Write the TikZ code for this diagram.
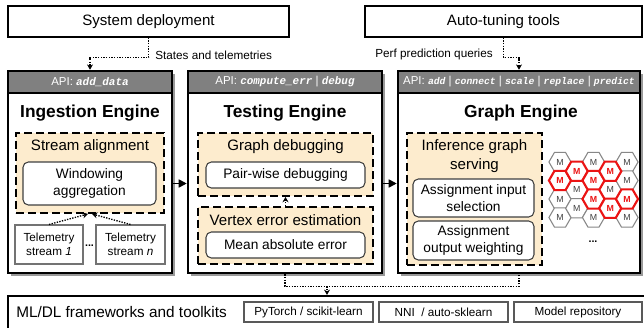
\documentclass[tikz,border=0pt]{standalone}
\usepackage{fontspec}
\setmainfont{Liberation Sans}
\newfontfamily\codefont{Liberation Mono}
\usetikzlibrary{fit,shapes.geometric,shadows,arrows.meta,calc}
\definecolor{beige}{RGB}{253,236,206}
\definecolor{apigray}{RGB}{128,128,128}
\definecolor{hexred}{RGB}{235,20,20}
\definecolor{hexgray}{RGB}{135,135,135}
\newcommand{\apicode}[1]{{\codefont\bfseries\itshape\fontsize{8.2}{9}\selectfont #1}}
\newcommand{\apicodeg}[1]{{\codefont\bfseries\itshape\fontsize{7.3}{9}\selectfont #1}}
\begin{document}
\begin{tikzpicture}[x=0.75pt,y=-0.75pt,
  topbox/.style={draw=black, line width=0.9pt, fill=white, inner sep=0pt},
  toptxt/.style={font=\fontsize{11.3}{13}\selectfont, inner sep=0pt},
  engine/.style={draw=black, line width=1.9pt, fill=white, inner sep=0pt,
     drop shadow={shadow xshift=2.2pt, shadow yshift=-2.2pt, fill=black!40, opacity=1}},
  apibar/.style={draw=black, line width=1.9pt, fill=apigray, inner sep=0pt},
  apitxt/.style={text=white, font=\fontsize{8.6}{9}\selectfont, inner sep=0pt},
  etitle/.style={font=\fontsize{13}{15}\selectfont\bfseries, inner sep=0pt},
  dbox/.style={draw=black, line width=1.4pt, dash pattern=on 6pt off 3pt, fill=beige, inner sep=0pt},
  dtitle/.style={font=\fontsize{11.3}{13.8}\selectfont, inner sep=0pt, align=center},
  rbox/.style={draw=black!75, line width=0.8pt, rounded corners=4pt, fill=white, inner sep=0pt},
  rtxt/.style={align=center, font=\fontsize{10.3}{12.5}\selectfont, inner sep=0pt},
  tbox/.style={draw=black!55, line width=0.8pt, fill=white, inner sep=0pt},
  ttxt/.style={align=center, font=\fontsize{8.8}{10.5}\selectfont, inner sep=0pt},
  bbox/.style={draw=black!65, line width=0.8pt, fill=white, inner sep=0pt},
  btxt/.style={font=\fontsize{8.8}{10.5}\selectfont, inner sep=0pt},
  hexg/.style={regular polygon, regular polygon sides=6, minimum size=16.6pt, inner sep=0pt, draw=hexgray, line width=0.8pt, fill=white, text=black!75, font=\fontsize{6.6}{7}\selectfont},
  hexr/.style={hexg, draw=hexred, line width=1.6pt, text=hexred, font=\fontsize{6.6}{7}\selectfont\bfseries},
  dotarr/.style={densely dotted, line width=1pt, -{Stealth[length=4pt,width=4.5pt]}},
  dotline/.style={densely dotted, line width=1pt},
  solidarr/.style={line width=1.2pt, -{Triangle[length=6pt,width=6pt]}},
  lbl/.style={font=\fontsize{8.8}{10}\selectfont, inner sep=0pt}]
\useasboundingbox (0,0) rectangle (644,328);

% top boxes
\node[topbox, fit={(8,6)(289,37)}] (sys) {};
\node[toptxt] (systxt) at (sys.center) {System deployment};
\node[topbox, fit={(365,6)(642,37)}] (auto) {};
\node[toptxt] (autotxt) at (auto.center) {Auto-tuning tools};

% engines
\node[engine, fit={(8,71)(172,273)}] (ing) {};
\node[engine, fit={(188,71)(382,273)}] (test) {};
\node[engine, fit={(398,71)(640,273)}] (graph) {};

\node[apibar, fit={(8,71)(172,93)}] (ingapi) {};
\node[apitxt] (ingapitxt) at (ingapi.center) {API: \apicode{add\_data}};
\node[apibar, fit={(188,71)(382,93)}] (testapi) {};
\node[apitxt] (testapitxt) at (testapi.center) {API: \apicode{compute\_err} | \apicode{debug}};
\node[apibar, fit={(398,71)(640,93)}] (graphapi) {};
\node[apitxt] (graphapitxt) at (graphapi.center) {API: \apicodeg{add} | \apicodeg{connect} | \apicodeg{scale} | \apicodeg{replace} | \apicodeg{predict}};

\node[etitle] (ingtitle) at (90,113) {Ingestion Engine};
\node[etitle] (testtitle) at (285,113) {Testing Engine};
\node[etitle] (graphtitle) at (521,113) {Graph Engine};

% ingestion internals
\node[dbox, fit={(16,133)(164,213)}] (sa) {};
\node[dtitle] (satitle) at (90,147) {Stream alignment};
\node[rbox, fit={(23,162)(156,205)}] (wa) {};
\node[rtxt] (watxt) at (wa.center) {Windowing\\aggregation};
\node[tbox, fit={(15,225)(83,264)}] (t1) {};
\node[ttxt] (t1txt) at (t1.center) {Telemetry\\stream \textit{1}};
\node[tbox, fit={(96,225)(165,264)}] (tn) {};
\node[ttxt] (tntxt) at (tn.center) {Telemetry\\stream \textit{n}};
\node[font=\fontsize{8}{9}\selectfont\bfseries, inner sep=0pt] (tdots) at (89.5,246) {...};
\draw[dotarr] (t1.north) -- ($(sa.south)+(-2,0)$);
\draw[dotarr] (tn.north) -- ($(sa.south)+(2,0)$);

% testing internals
\node[dbox, fit={(198,133)(373,196)}] (gd) {};
\node[dtitle] (gdtitle) at (285.5,147) {Graph debugging};
\node[rbox, fit={(206,162)(365,188)}] (pw) {};
\node[rtxt] (pwtxt) at (pw.center) {Pair-wise debugging};
\node[dbox, fit={(198,207)(373,264)}] (ve) {};
\node[dtitle] (vetitle) at (285.5,220) {Vertex error estimation};
\node[rbox, fit={(206,232)(365,258)}] (ma) {};
\node[rtxt] (matxt) at (ma.center) {Mean absolute error};
\draw[dotarr] (ve.north) -- (gd.south);

% graph internals
\node[dbox, fit={(407,133)(542,265)}] (ig) {};
\node[dtitle] (igtitle) at (474.5,156) {Inference graph\\serving};
\node[rbox, fit={(413,179)(534,217)}] (ai) {};
\node[rtxt] (aitxt) at (ai.center) {Assignment input\\selection};
\node[rbox, fit={(413,221)(534,260)}] (ao) {};
\node[rtxt] (aotxt) at (ao.center) {Assignment\\output weighting};

% hex grid
\node[hexg] (h11) at (560,162) {M};
\node[hexg] (h13) at (560,199) {M};
\node[hexg] (h14) at (560,217.5) {M};
\node[hexg] (h22) at (576.75,189.75) {M};
\node[hexg] (h23) at (576.75,208.25) {M};
\node[hexg] (h31) at (593.5,162) {M};
\node[hexg] (h34) at (593.5,217.5) {M};
\node[hexg] (h42) at (610.25,189.75) {M};
\node[hexg] (h51) at (627,162) {M};
\node[hexg] (h52) at (627,180.5) {M};
\node[hexg] (h54) at (627,217.5) {M};
\node[hexr] (h12) at (560,180.5) {M};
\node[hexr] (h21) at (576.75,171.25) {M};
\node[hexr] (h32) at (593.5,180.5) {M};
\node[hexr] (h33) at (593.5,199) {M};
\node[hexr] (h41) at (610.25,171.25) {M};
\node[hexr] (h43) at (610.25,208.25) {M};
\node[hexr] (h53) at (627,199) {M};
\node[font=\fontsize{8}{9}\selectfont\bfseries, inner sep=0pt] (hdots) at (593,242) {...};

% engine arrows
\draw[solidarr] (ing.east |- wa) -- (test.west |- wa);
\draw[solidarr] (test.east |- wa) -- (graph.west |- wa);

% top connectors
\draw[dotarr] (sys.south) -- ++(0,20) -| (ing.north);
\node[lbl, anchor=west] (stlbl) at (155,55) {States and telemetries};
\draw[dotarr] (auto.south) -- ++(0,20) -| (graph.north);
\node[lbl, anchor=east] (pflbl) at (493,54) {Perf prediction queries};

% bottom
\begin{scope}
\clip (0,0) rectangle (644,328);
\node[draw=black, line width=1.6pt, fill=white, inner sep=0pt, fit={(8,296)(660,345)}] (bot) {};
\end{scope}
\node[font=\fontsize{11.5}{13}\selectfont, anchor=west, inner sep=0pt] (mltxt) at (16,312) {ML/DL frameworks and toolkits};
\node[bbox, fit={(244,302)(373,322)}] (py) {};
\node[btxt] (pytxt) at (py.center) {PyTorch / scikit-learn};
\node[bbox, fit={(379,302)(508,322)}] (nni) {};
\node[btxt] (nnitxt) at (nni.center) {NNI~ / auto-sklearn};
\node[bbox, fit={(514,302)(642,322)}] (mr) {};
\node[btxt] (mrtxt) at (mr.center) {Model repository};

\draw[dotline] (test.south) -- ++(0,12) -| (graph.south);
\coordinate (mid) at ($(test.south)+(42,12)$);
\draw[dotarr] (mid) -- (mid |- bot.north);
\end{tikzpicture}
\end{document}
